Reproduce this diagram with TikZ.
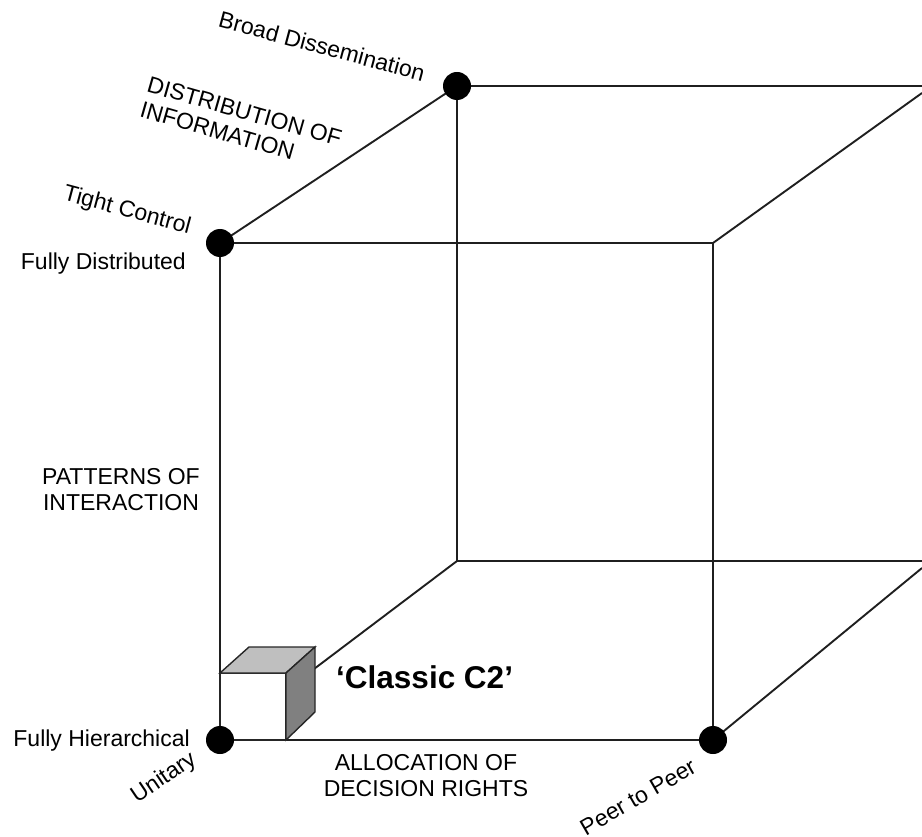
\documentclass[tikz,border=0pt]{standalone}
\usepackage{fontspec}
\setmainfont{Liberation Sans}
\begin{document}
\begin{tikzpicture}[x=1pt,y=-1pt,
  edge/.style={line width=1.9pt, draw=black!88},
  dot/.style={circle, fill=black, minimum size=28pt, inner sep=0pt},
  lbl/.style={font=\fontsize{23}{26}\selectfont, inner sep=0pt},
  small/.style={draw=black!85, line width=1.4pt, line join=miter},
]
\useasboundingbox (0,0) rectangle (922,837);
% corners
\coordinate (A) at (220,740);
\coordinate (B) at (713,740);
\coordinate (C) at (220,243);
\coordinate (D) at (713,243);
\coordinate (E) at (457,86);
\coordinate (G) at (457,561);
\coordinate (ER) at (922,86);
\coordinate (DR) at (922,93);
\coordinate (GR) at (922,561);
\coordinate (BR) at (922,568);
% edges
\draw[edge] (C) -- (D) -- (B) -- (A) -- cycle;
\draw[edge] (C) -- (E);
\draw[edge] (E) -- (ER);
\draw[edge] (E) -- (G);
\draw[edge] (G) -- (GR);
\draw[edge] (A) -- (G);
\draw[edge] (D) -- (DR);
\draw[edge] (B) -- (BR);
% small cube
\coordinate (q1) at (220,673);
\coordinate (q2) at (286,673);
\coordinate (q3) at (286,740);
\coordinate (q4) at (249,647);
\coordinate (q5) at (315,647);
\coordinate (q6) at (315,712);
\filldraw[small, fill=white] (A) -- (q1) -- (q2) -- (q3) -- cycle;
\filldraw[small, fill=black!25] (q1) -- (q4) -- (q5) -- (q2) -- cycle;
\filldraw[small, fill=black!50] (q2) -- (q5) -- (q6) -- (q3) -- cycle;
% dots
\node[dot] (dA) at (A) {};
\node[dot] (dB) at (B) {};
\node[dot] (dC) at (C) {};
\node[dot] (dE) at (E) {};
% labels
\node[lbl, rotate=-15] (broad) at (322,46) {Broad Dissemination};
\node[lbl, rotate=-16, align=left] (dist) at (241,124) {DISTRIBUTION OF\\INFORMATION};
\node[lbl, rotate=-15] (tight) at (127,211) {Tight Control};
\node[lbl, anchor=base east] (fdist) at (186,270) {Fully Distributed};
\node[lbl, align=center] (pat) at (121,490) {PATTERNS OF\\INTERACTION};
\node[lbl, anchor=base east] (fhier) at (190,746) {Fully Hierarchical};
\node[lbl, rotate=34] (unit) at (164,778) {Unitary};
\node[lbl, align=center] (alloc) at (426,776) {ALLOCATION OF\\DECISION RIGHTS};
\node[lbl, rotate=30] (peer) at (638,797) {Peer to Peer};
\node[inner sep=0pt, anchor=base west, font=\fontsize{31.5}{35}\selectfont\bfseries] (classic) at (336,688) {‘Classic C2’};
\end{tikzpicture}
\end{document}
